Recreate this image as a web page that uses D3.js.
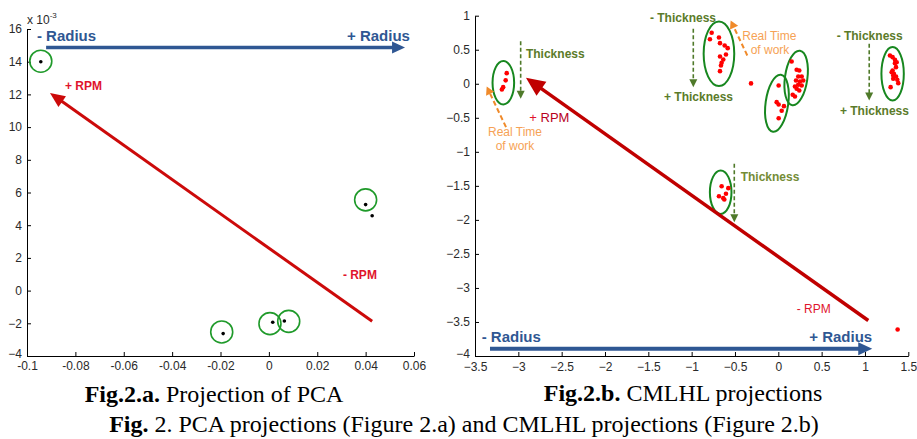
<!DOCTYPE html>
<html>
<head>
<meta charset="utf-8">
<script src="https://cdn.jsdelivr.net/npm/d3@7/dist/d3.min.js"></script>
<style>
  body { margin: 0; background: #fff; }
  .axis text { font-family: "Liberation Sans", Arial, sans-serif; font-size: 12px; fill: #2a2a2a; }
  .axis path, .axis line { stroke: #000; }
</style>
</head>
<body>
<svg id="fig" width="917" height="439"></svg>
<script>
// ---- Fig 2.a PCA (y values in units of 1e-3) ----
var pcaX = [-0.0943, 0.0400, 0.0427, -0.0189, 0.0016, 0.0064];
var pcaY = [14.0, 5.26, 4.58, -2.63, -1.94, -1.86];
var pcaRingX = [-0.0943, 0.0400, -0.0195, 0.00045, 0.0082];
var pcaRingY = [14.03, 5.55, -2.53, -2.02, -1.88];
var pcaXTicks = [-0.1, -0.08, -0.06, -0.04, -0.02, 0, 0.02, 0.04, 0.06];
var pcaXLabels = ["-0.1", "-0.08", "-0.06", "-0.04", "-0.02", "0", "0.02", "0.04", "0.06"];
var pcaYTicks = [16, 14, 12, 10, 8, 6, 4, 2, 0, -2, -4];
// arrows: [x1, y1, x2, y2]
var pcaRadius = [-0.0921, 14.87, 0.0563, 14.87];
var pcaRpm = [0.0427, -1.88, -0.0905, 12.09];

// ---- Fig 2.b CMLHL ----
var cmlX = [
  -3.134, -3.146, -3.175, -3.19,
  -0.769, -0.789, -0.685, -0.673, -0.619, -0.584, -0.604, -0.673, -0.635, -0.654, -0.662, -0.673,
  -0.315,
  0.004, -0.019, 0.004, 0.065, 0.039, 0.004,
  0.154, 0.212, 0.242, 0.270, 0.230, 0.204, 0.250, 0.288, 0.230, 0.270, 0.192, 0.212, 0.242, 0.166, 0.192,
  1.288, 1.319, 1.346, 1.366, 1.346, 1.358, 1.319, 1.308, 1.334, 1.326, 1.358, 1.373, 1.384, 1.326, 1.296,
  -0.654, -0.577, -0.604, -0.685, -0.635, -0.623,
  1.377
];
var cmlY = [
  0.156, 0.05, -0.05, -0.085,
  0.749, 0.653, 0.680, 0.597, 0.563, 0.523, 0.431, 0.401, 0.357, 0.309, 0.269, 0.185,
  0.005,
  -0.025, -0.27, -0.304, -0.329, -0.397, -0.506,
  0.328, 0.206, 0.195, 0.107, 0.107, 0.048, 0.034, 0.048, -0.015, -0.025, -0.04, -0.073, -0.098, -0.162, -0.187,
  0.416, 0.391, 0.353, 0.317, 0.303, 0.244, 0.195, 0.170, 0.147, 0.122, 0.107, 0.059, 0.009, 0.073, -0.05,
  -1.505, -1.534, -1.616, -1.652, -1.681, -1.700,
  -3.61
];
var cmlGroupX = [-3.173, -0.685, -0.016, 0.206, 1.319, -0.665];
var cmlGroupY = [0.015, 0.441, -0.287, 0.085, 0.147, -1.593];
var cmlXTicks = [-3.5, -3, -2.5, -2, -1.5, -1, -0.5, 0, 0.5, 1, 1.5];
var cmlYTicks = [1, 0.5, 0, -0.5, -1, -1.5, -2, -2.5, -3, -3.5, -4];
var cmlRadius = [-3.327, -3.894, 1.084, -3.894];
var cmlRpm = [1.038, -3.478, -2.912, 0.088];
var cmlThickArrows = [
  [-2.973, 0.626, -2.973, -0.22],
  [-0.981, 0.808, -0.981, -0.05],
  [1.049, 0.588, 1.049, -0.245],
  [-0.508, -1.176, -0.508, -2.034]
];
var cmlTimeArrows = [
  [-3.142, -0.638, -3.365, -0.04],
  [-0.358, 0.416, -0.550, 0.930]
];

var svg = d3.select("#fig");
var sans = "'Liberation Sans', Arial, sans-serif";

var blue = "#2f5793";
var olive = "#5b7b2a";
var orange = "#f6a255";

function drawArrow(g, x1, y1, x2, y2, o) {
  var dx = x2 - x1, dy = y2 - y1, len = Math.hypot(dx, dy);
  var ux = dx / len, uy = dy / len;
  var bx = x2 - ux * o.head, by = y2 - uy * o.head;
  g.append("line")
    .attr("x1", x1).attr("y1", y1)
    .attr("x2", bx + ux).attr("y2", by + uy)
    .attr("stroke", o.color)
    .attr("stroke-width", o.width)
    .attr("stroke-dasharray", o.dash || null);
  g.append("path")
    .attr("d", "M" + x2 + "," + y2 +
      "L" + (bx - uy * o.half) + "," + (by + ux * o.half) +
      "L" + (bx + uy * o.half) + "," + (by - ux * o.half) + "Z")
    .attr("fill", o.color);
}

function label(g, x, y, txt, o) {
  return g.append("text")
    .attr("x", x).attr("y", y)
    .attr("dy", "0.35em")
    .attr("text-anchor", o.anchor || "start")
    .style("font-family", sans)
    .style("font-size", o.size + "px")
    .style("font-weight", o.weight || "normal")
    .attr("fill", o.color)
    .text(txt);
}

// lowest y label sits on the x axis, lift it a little so it doesn't collide
function liftLast(axisG) {
  axisG.selectAll(".tick text")
    .filter(function(d) { return d === -4; })
    .attr("dy", "0.1em");
}

// ================= left panel =================
var xa = d3.scaleLinear().domain([-0.1, 0.06]).range([27, 414]);
var ya = d3.scaleLinear().domain([-4, 16]).range([356, 29]);
var ga = svg.append("g");

ga.append("g").attr("class", "axis")
  .attr("transform", "translate(0," + ya(-4) + ")")
  .call(d3.axisBottom(xa).tickValues(pcaXTicks)
    .tickFormat(function(d, i) { return pcaXLabels[i]; })
    .tickSizeInner(-4).tickSizeOuter(0).tickPadding(5));
var yAxA = ga.append("g").attr("class", "axis")
  .attr("transform", "translate(" + xa(-0.1) + ",0)")
  .call(d3.axisLeft(ya).tickValues(pcaYTicks).tickFormat(d3.format("d"))
    .tickSizeInner(-4).tickSizeOuter(0).tickPadding(5));
liftLast(yAxA);

var mult = ga.append("text")
  .attr("x", xa(-0.1)).attr("y", 24)
  .style("font-family", sans).style("font-size", "12px").attr("fill", "#2a2a2a");
mult.append("tspan").text("x 10");
mult.append("tspan").attr("dy", -6).style("font-size", "8px").text("-3");

ga.selectAll(".ring").data(pcaRingX).enter().append("circle")
  .attr("cx", function(d) { return xa(d); })
  .attr("cy", function(d, i) { return ya(pcaRingY[i]); })
  .attr("r", 11)
  .attr("fill", "none").attr("stroke", "#1f9a2a").attr("stroke-width", 1.6);

ga.selectAll(".pt").data(pcaX).enter().append("circle")
  .attr("cx", function(d) { return xa(d); })
  .attr("cy", function(d, i) { return ya(pcaY[i]); })
  .attr("r", 1.8).attr("fill", "#000");

drawArrow(ga, xa(pcaRadius[0]), ya(pcaRadius[1]), xa(pcaRadius[2]), ya(pcaRadius[3]),
  { color: blue, width: 3.5, head: 13, half: 6 });
drawArrow(ga, xa(pcaRpm[0]), ya(pcaRpm[1]), xa(pcaRpm[2]), ya(pcaRpm[3]),
  { color: "#cc0a0a", width: 3, head: 15, half: 6.5 });

label(ga, xa(-0.0959), ya(15.6), "- Radius", { size: 15, weight: "bold", color: blue });
label(ga, xa(0.0323), ya(15.6), "+ Radius", { size: 15, weight: "bold", color: blue });
label(ga, xa(-0.0843), ya(12.5), "+ RPM", { size: 12, weight: "bold", color: "#e0142c" });
label(ga, xa(0.0306), ya(0.94), "- RPM", { size: 12, weight: "bold", color: "#e0142c" });

// ================= right panel =================
var xb = d3.scaleLinear().domain([-3.5, 1.5]).range([475, 908.3]);
var yb = d3.scaleLinear().domain([-4, 1]).range([356, 15.7]);
var gb = svg.append("g");

gb.append("g").attr("class", "axis")
  .attr("transform", "translate(0," + yb(-4) + ")")
  .call(d3.axisBottom(xb).tickValues(cmlXTicks).tickFormat(d3.format("~g"))
    .tickSizeInner(-4).tickSizeOuter(0).tickPadding(6));
var yAxB = gb.append("g").attr("class", "axis")
  .attr("transform", "translate(" + xb(-3.5) + ",0)")
  .call(d3.axisLeft(yb).tickValues(cmlYTicks).tickFormat(d3.format("~g"))
    .tickSizeInner(-4).tickSizeOuter(0).tickPadding(5));
liftLast(yAxB);

var ellRx = [10.8, 15.3, 11.3, 11.2, 11.2, 10.8];
var ellRy = [21.7, 32.3, 28.8, 27.5, 26.7, 21.7];
var ellRot = [0, 0, 8, 8, 0, 0];
gb.selectAll(".grp").data(cmlGroupX).enter().append("ellipse")
  .attr("transform", function(d, i) {
    return "translate(" + xb(d) + "," + yb(cmlGroupY[i]) + ") rotate(" + ellRot[i] + ")";
  })
  .attr("rx", function(d, i) { return ellRx[i]; })
  .attr("ry", function(d, i) { return ellRy[i]; })
  .attr("fill", "none").attr("stroke", "#17871f").attr("stroke-width", 2);

drawArrow(gb, xb(cmlRpm[0]), yb(cmlRpm[1]), xb(cmlRpm[2]), yb(cmlRpm[3]),
  { color: "#c00000", width: 3.5, head: 19, half: 8.5 });
drawArrow(gb, xb(cmlRadius[0]), yb(cmlRadius[1]), xb(cmlRadius[2]), yb(cmlRadius[3]),
  { color: blue, width: 4, head: 14, half: 6.5 });

cmlThickArrows.forEach(function(a) {
  drawArrow(gb, xb(a[0]), yb(a[1]), xb(a[2]), yb(a[3]),
    { color: "#4f7a2a", width: 1.6, head: 8, half: 4, dash: "4,2.5" });
});
cmlTimeArrows.forEach(function(a) {
  drawArrow(gb, xb(a[0]), yb(a[1]), xb(a[2]), yb(a[3]),
    { color: "#f08a2a", width: 2, head: 8, half: 4.5, dash: "5,3" });
});

gb.selectAll(".pt").data(cmlX).enter().append("circle")
  .attr("cx", function(d) { return xb(d); })
  .attr("cy", function(d, i) { return yb(cmlY[i]); })
  .attr("r", 2.3).attr("fill", "#ff0000");

label(gb, xb(-2.912), yb(0.441), "Thickness", { size: 12, weight: "bold", color: olive });
label(gb, xb(-1.481), yb(0.97), "- Thickness", { size: 12, weight: "bold", color: olive });
label(gb, xb(-1.319), yb(-0.197), "+ Thickness", { size: 12, weight: "bold", color: olive });
label(gb, xb(0.673), yb(0.70), "- Thickness", { size: 12, weight: "bold", color: olive });
label(gb, xb(0.711), yb(-0.392), "+ Thickness", { size: 12, weight: "bold", color: olive });
label(gb, xb(-0.434), yb(-1.373), "Thickness", { size: 12, weight: "bold", color: "#748c35" });

label(gb, xb(-3.038), yb(-0.70), "Real Time", { size: 12, color: orange, anchor: "middle" });
label(gb, xb(-3.038), yb(-0.907), "of work", { size: 12, color: orange, anchor: "middle" });
label(gb, xb(-0.104), yb(0.70), "Real Time", { size: 12, color: orange, anchor: "middle" });
label(gb, xb(-0.096), yb(0.504), "of work", { size: 12, color: orange, anchor: "middle" });

var rp = label(gb, xb(-2.873), yb(-0.5), "", { size: 13, color: "#b8001e" });
rp.append("tspan").attr("fill", "#e0142c").text("+ ");
rp.append("tspan").text("RPM");
label(gb, xb(0.212), yb(-3.306), "- RPM", { size: 12, color: "#e0142c" });
label(gb, xb(-3.423), yb(-3.713), "- Radius", { size: 15, weight: "bold", color: blue });
label(gb, xb(0.357), yb(-3.713), "+ Radius", { size: 15, weight: "bold", color: blue });

// ================= captions =================
var serif = "'Liberation Serif', 'Times New Roman', serif";
function caption(x, y, bold, rest) {
  var t = svg.append("text").attr("x", x).attr("y", y)
    .attr("text-anchor", "middle")
    .style("font-family", serif).style("font-size", "24px").attr("fill", "#000");
  t.append("tspan").style("font-weight", "bold").text(bold);
  t.append("tspan").text(rest);
  return t;
}
caption(214, 402, "Fig.2.a.", " Projection of PCA");
caption(683, 401, "Fig.2.b.", " CMLHL projections");
caption(464, 432, "Fig.", " 2. PCA projections (Figure 2.a) and CMLHL projections (Figure 2.b)");
</script>
</body>
</html>
